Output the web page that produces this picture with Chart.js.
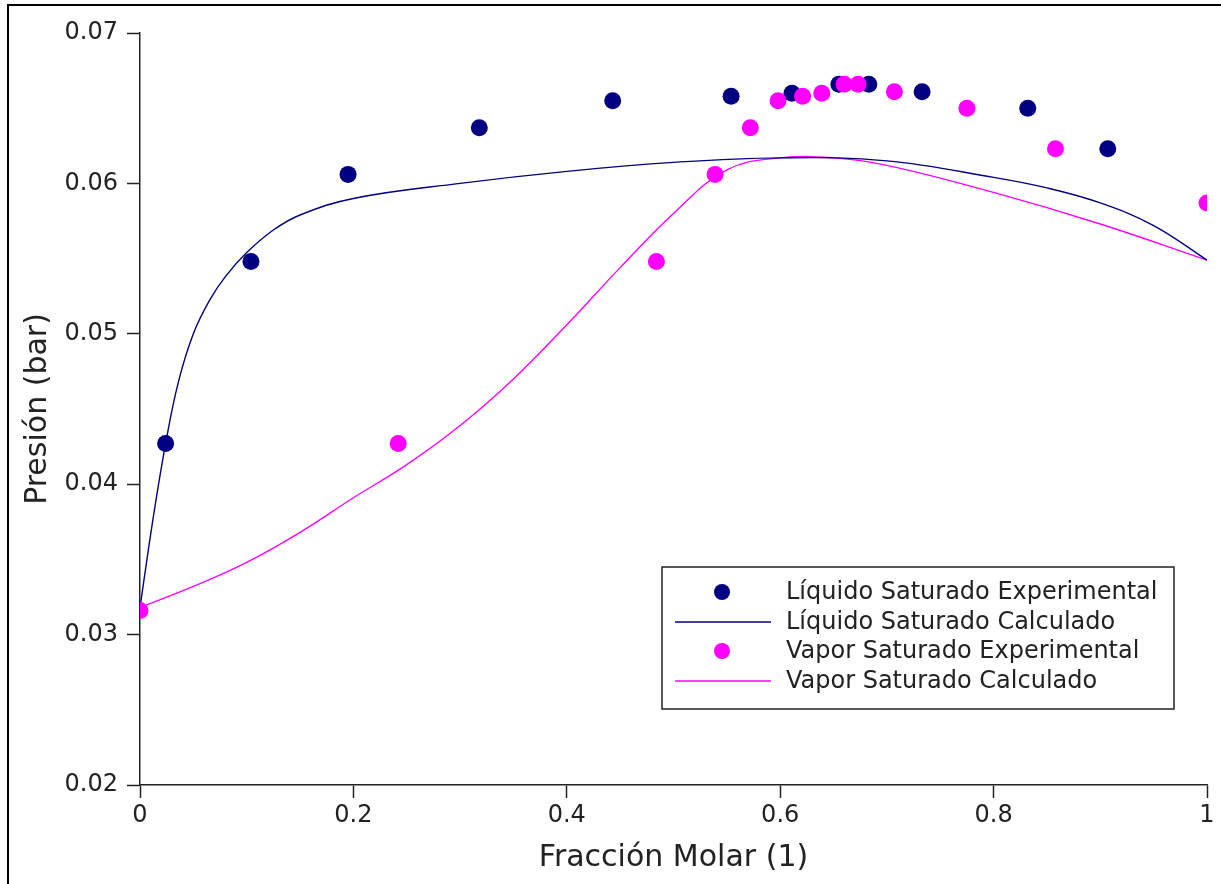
<!DOCTYPE html>
<html>
<head>
<meta charset="utf-8">
<script src="https://cdn.jsdelivr.net/npm/chart.js@4/dist/chart.umd.min.js"></script>
<style>
  html, body { margin: 0; padding: 0; background: #fff; }
  #wrap { position: relative; width: 1221px; height: 884px; }
</style>
</head>
<body>
<div id="wrap"><canvas id="chart" width="1221" height="884"></canvas></div>
<script>
// experimental points
const liqExpX = [0.024, 0.104, 0.195, 0.318, 0.443, 0.554, 0.611, 0.655, 0.683, 0.733, 0.832, 0.907];
const liqExpY = [0.0427, 0.0548, 0.0606, 0.0637, 0.0655, 0.0658, 0.0660, 0.0666, 0.0666, 0.0661, 0.0650, 0.0623];
const vapExpX = [0, 0.242, 0.484, 0.539, 0.572, 0.598, 0.621, 0.639, 0.660, 0.673, 0.707, 0.775, 0.858, 1];
const vapExpY = [0.0316, 0.0427, 0.0548, 0.0606, 0.0637, 0.0655, 0.0658, 0.0660, 0.0666, 0.0666, 0.0661, 0.0650, 0.0623, 0.0587];

// calculated curves
const liqCalcX = [0, 0.012, 0.024, 0.036, 0.05, 0.065, 0.08, 0.1, 0.125, 0.15, 0.2, 0.3, 0.4, 0.5, 0.6, 0.7, 0.8, 0.85, 0.9, 0.95, 1];
const liqCalcY = [0.0318, 0.0376, 0.0427, 0.0468, 0.0500, 0.0522, 0.0538, 0.0554, 0.0569, 0.0579, 0.0590, 0.0600, 0.0608, 0.0614, 0.0617, 0.0615, 0.0604, 0.0597, 0.0587, 0.0572, 0.0549];
const vapCalcX = [0, 0.05, 0.1, 0.15, 0.2, 0.25, 0.3, 0.35, 0.4, 0.45, 0.5, 0.55, 0.6, 0.65, 0.7, 0.8, 0.9, 1];
const vapCalcY = [0.0318, 0.0332, 0.0348, 0.0368, 0.0391, 0.0413, 0.0439, 0.0470, 0.0506, 0.0544, 0.0580, 0.0609, 0.0617, 0.0617, 0.0612, 0.0594, 0.0573, 0.0549];

const xTickLabels = ['0', '0.2', '0.4', '0.6', '0.8', '1'];
const yTickLabels = ['0.02', '0.03', '0.04', '0.05', '0.06', '0.07'];

const legendLabels = [
    'Líquido Saturado Experimental',
    'Líquido Saturado Calculado',
    'Vapor Saturado Experimental',
    'Vapor Saturado Calculado'
];

const NAVY = '#000080';
const PINK = '#ff00ff';
const INK = '#222';

const zip = (xs, ys) => xs.map((x, i) => ({ x: x, y: ys[i] }));

Chart.defaults.font.family = 'DejaVu Sans';
Chart.defaults.color = INK;

// legend box drawn inside the plot, plus the partial outer frame
const boxLegend = {
    id: 'boxLegend',
    afterDraw(chart) {
        const ctx = chart.ctx;
        ctx.save();
        ctx.strokeStyle = '#000';
        ctx.lineWidth = 2;
        ctx.beginPath();
        ctx.moveTo(8, 884);
        ctx.lineTo(8, 5);
        ctx.lineTo(1221, 5);
        ctx.stroke();

        ctx.fillStyle = '#fff';
        ctx.fillRect(662, 567, 512, 142);
        ctx.strokeStyle = INK;
        ctx.lineWidth = 1.5;
        ctx.strokeRect(662, 567, 512, 142);

        const rows = [592, 622, 651, 681];
        ctx.font = '24px "DejaVu Sans"';
        ctx.textBaseline = 'middle';
        ctx.textAlign = 'left';
        legendLabels.forEach((label, i) => {
            const col = i < 2 ? NAVY : PINK;
            const y = rows[i];
            if (i % 2 === 0) {
                ctx.fillStyle = col;
                ctx.beginPath();
                ctx.arc(722, y, 8, 0, Math.PI * 2);
                ctx.fill();
            } else {
                ctx.strokeStyle = col;
                ctx.lineWidth = 1.4;
                ctx.beginPath();
                ctx.moveTo(675, y);
                ctx.lineTo(771, y);
                ctx.stroke();
            }
            ctx.fillStyle = INK;
            ctx.fillText(label, 786, y + 1);
        });
        ctx.restore();
    }
};

new Chart(document.getElementById('chart'), {
    type: 'scatter',
    data: {
        datasets: [
            {
                label: legendLabels[0],
                data: zip(liqExpX, liqExpY),
                backgroundColor: NAVY,
                borderWidth: 0,
                pointRadius: 8.5,
                order: 2
            },
            {
                label: legendLabels[1],
                data: zip(liqCalcX, liqCalcY),
                showLine: true,
                borderColor: NAVY,
                borderWidth: 1.4,
                pointRadius: 0,
                tension: 0.4,
                order: 3
            },
            {
                label: legendLabels[2],
                data: zip(vapExpX, vapExpY),
                backgroundColor: PINK,
                borderWidth: 0,
                pointRadius: 8.5,
                order: 1
            },
            {
                label: legendLabels[3],
                data: zip(vapCalcX, vapCalcY),
                showLine: true,
                borderColor: PINK,
                borderWidth: 1.4,
                pointRadius: 0,
                tension: 0.4,
                order: 4
            }
        ]
    },
    options: {
        responsive: false,
        animation: false,
        layout: {
            padding: { top: 33, right: 14, bottom: 0, left: 0 }
        },
        plugins: {
            legend: { display: false },
            tooltip: { enabled: false }
        },
        scales: {
            x: {
                type: 'linear',
                min: 0,
                max: 1,
                afterFit: (scale) => { scale.height = 99; },
                ticks: {
                    stepSize: 0.2,
                    padding: 3,
                    font: { size: 24 },
                    color: INK,
                    maxRotation: 0,
                    callback: (v, i) => xTickLabels[i]
                },
                grid: {
                    display: true,
                    drawOnChartArea: false,
                    drawTicks: true,
                    tickLength: 13,
                    tickWidth: 1.5,
                    tickColor: INK
                },
                border: { display: true, color: INK, width: 1.5 },
                title: {
                    display: true,
                    text: 'Fracción Molar (1)',
                    font: { size: 30 },
                    color: INK,
                    padding: { top: 0, bottom: 8 }
                }
            },
            y: {
                type: 'linear',
                min: 0.02,
                max: 0.07,
                afterFit: (scale) => { scale.width = 140; },
                ticks: {
                    stepSize: 0.01,
                    padding: 9,
                    font: { size: 24 },
                    color: INK,
                    callback: (v, i) => yTickLabels[i]
                },
                grid: {
                    display: true,
                    drawOnChartArea: false,
                    drawTicks: true,
                    tickLength: 13,
                    tickWidth: 1.5,
                    tickColor: INK
                },
                border: { display: true, color: INK, width: 1.5 },
                title: {
                    display: true,
                    text: 'Presión (bar)',
                    font: { size: 30 },
                    color: INK,
                    padding: { top: 20, bottom: 0 }
                }
            }
        }
    },
    plugins: [boxLegend]
});
</script>
</body>
</html>
